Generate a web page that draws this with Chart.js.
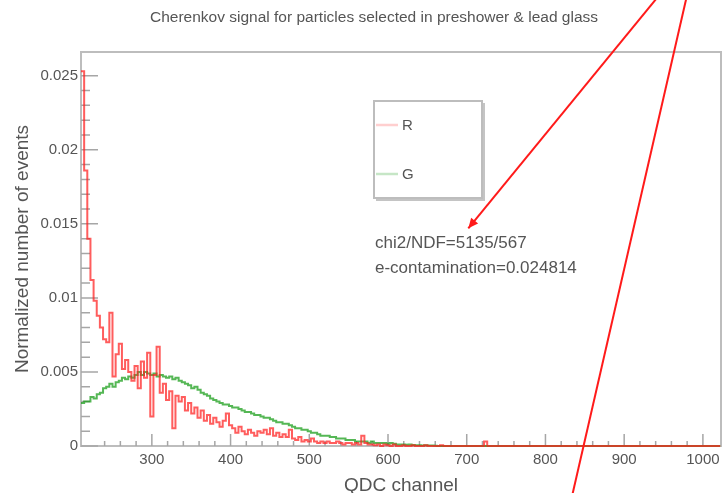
<!DOCTYPE html>
<html>
<head>
<meta charset="utf-8">
<script src="https://cdn.jsdelivr.net/npm/chart.js@4.4.1/dist/chart.umd.min.js"></script>
<style>
    html, body { margin: 0; padding: 0; background: #fff; }
</style>
</head>
<body>
<canvas id="qdcChart" width="726" height="493"></canvas>
<script>
/** histogram binning (QDC channels) */
const binStart = 210;
const binWidth = 4;

/** R histogram, normalized counts per bin */
const redCounts = [
    0.0253, 0.0186, 0.0140, 0.0112, 0.0098, 0.0088, 0.0080, 0.0072, 0.0070, 0.0090,
    0.0047, 0.0062, 0.0069, 0.0052, 0.0058, 0.0050, 0.0044, 0.0054, 0.0039, 0.0057,
    0.0046, 0.0063, 0.0020, 0.0048, 0.0067, 0.0036, 0.0042, 0.0031, 0.0037, 0.0012,
    0.0034, 0.0030, 0.0033, 0.0024, 0.0029, 0.0022, 0.0026, 0.0019, 0.0024, 0.0017,
    0.0021, 0.0015, 0.0019, 0.0016, 0.0013, 0.0017, 0.0022, 0.0014, 0.0012, 0.0009,
    0.0013, 0.0010, 0.0008, 0.0011, 0.0009, 0.0007, 0.0010, 0.0009, 0.0011, 0.0008,
    0.0012, 0.0007, 0.0009, 0.0006, 0.0008, 0.0006, 0.0011, 0.0005, 0.0004, 0.0006,
    0.0003, 0.0004, 0.0003, 0.0005, 0.0003, 0.0002, 0.0003, 0.0002, 0.0003, 0.0002,
    0.0002, 0.0003, 0.0002, 0.0001, 0.0002, 0.0002, 0.0001, 0.0002, 0.0001, 0.0007,
    0.0002, 0.0001, 0.0001, 0.00005, 0.0001, 0, 0.0001, 0.00005, 0, 0.0001,
    0, 0, 0.00005, 0, 0, 0.00005, 0, 0, 0, 0.00005,
    0, 0, 0, 0, 0.00005, 0, 0, 0, 0, 0,
    0, 0, 0, 0, 0, 0, 0, 0, 0.0003, 0,
    0, 0, 0, 0, 0, 0, 0, 0, 0, 0,
    0, 0, 0, 0, 0, 0, 0, 0, 0, 0,
    0, 0, 0, 0, 0, 0, 0, 0, 0, 0,
    0, 0, 0, 0, 0, 0, 0, 0, 0, 0,
    0, 0, 0, 0, 0, 0, 0, 0, 0, 0,
    0, 0, 0, 0, 0, 0, 0, 0, 0, 0,
    0, 0, 0, 0, 0, 0, 0, 0, 0, 0,
    0, 0, 0
];

/** G histogram, normalized counts per bin */
const greenCounts = [
    0.0029, 0.0030, 0.0030, 0.0033, 0.0032, 0.0035, 0.0036, 0.0039, 0.0040, 0.0042,
    0.0040, 0.0043, 0.0044, 0.0046, 0.0045, 0.0047, 0.0046, 0.0048, 0.0050, 0.0048,
    0.0050, 0.0049, 0.0048, 0.0049, 0.0047, 0.0048, 0.0047, 0.0046, 0.0047, 0.0045,
    0.0046, 0.0044, 0.0043, 0.0042, 0.0041, 0.0039, 0.0040, 0.0038, 0.0036, 0.0035,
    0.0034, 0.0032, 0.0031, 0.0030, 0.0029, 0.0028, 0.0028, 0.0027, 0.0026, 0.0026,
    0.0025, 0.0024, 0.0023, 0.0023, 0.0022, 0.0021, 0.0021, 0.0020, 0.0019, 0.0019,
    0.0018, 0.0017, 0.0016, 0.0016, 0.0015, 0.0015, 0.0014, 0.0013, 0.0012, 0.0012,
    0.0011, 0.0011, 0.0010, 0.0009, 0.0009, 0.0008, 0.0007, 0.0007, 0.0007, 0.0006,
    0.0006, 0.0005, 0.0005, 0.0005, 0.0004, 0.0004, 0.0004, 0.0003, 0.0003, 0.0003,
    0.0003, 0.0002, 0.0003, 0.0002, 0.0002, 0.0002, 0.0002, 0.00015, 0.0002, 0.00015,
    0.0001, 0.0001, 0.0001, 0.00008, 0.0001, 0.00007, 0.00005, 0.00005, 0.00004, 0.00005,
    0.00003, 0.00003, 0.00002, 0, 0, 0, 0, 0, 0, 0,
    0, 0, 0, 0, 0, 0, 0, 0, 0, 0,
    0, 0, 0, 0, 0, 0, 0, 0, 0, 0,
    0, 0, 0, 0, 0, 0, 0, 0, 0, 0,
    0, 0, 0, 0, 0, 0, 0, 0, 0, 0,
    0, 0, 0, 0, 0, 0, 0, 0, 0, 0,
    0, 0, 0, 0, 0, 0, 0, 0, 0, 0,
    0, 0, 0, 0, 0, 0, 0, 0, 0, 0,
    0, 0, 0, 0, 0, 0, 0, 0, 0, 0,
    0, 0, 0
];

/** axis ranges and tick steps */
const xRange = [210, 1023];
const yRange = [0, 0.0266];
const xMinorStep = 20, xMajorStep = 100;
const yMinorStep = 0.001, yMajorEvery = 5;

/** texts */
const chartTitle = "Cherenkov signal for particles selected in preshower & lead glass";
const xTitle = "QDC channel";
const yTitle = "Normalized number of events";
const seriesNames = ["R", "G"];
const fitLabels = ["chi2/NDF=5135/567", "e-contamination=0.024814"];

/** hand-drawn red marks, in data units (channel, value) */
const pointerArrow = [[948.6, 0.0307], [702, 0.0147]];
const slashLine = [[981, 0.0307], [832, -0.0038]];

// step histogram points: one per bin low edge plus the closing edge
function toSteps(counts) {
    const pts = counts.map((v, i) => ({ x: binStart + i * binWidth, y: v }));
    pts.push({ x: binStart + counts.length * binWidth, y: counts[counts.length - 1] });
    return pts;
}

const FONT = "'Liberation Sans', Arial, sans-serif";
const TEXT = "#555";

const rootPlugin = {
    id: "rootStyle",
    beforeDatasetsDraw(chart) {
        const { ctx, chartArea: a, scales: { x, y } } = chart;
        ctx.save();
        ctx.strokeStyle = "#bdbdbd";
        ctx.lineWidth = 2;
        ctx.strokeRect(a.left, a.top, a.right - a.left, a.bottom - a.top);

        // inward ticks like ROOT
        ctx.strokeStyle = "#a6a6a6";
        ctx.lineWidth = 1.5;
        ctx.beginPath();
        x.ticks.forEach(t => {
            if (t.value % xMinorStep !== 0) return;
            const px = x.getPixelForValue(t.value);
            const len = t.value % xMajorStep === 0 ? 12 : 5;
            ctx.moveTo(px, a.bottom);
            ctx.lineTo(px, a.bottom - len);
        });
        y.ticks.forEach(t => {
            const k = t.value / yMinorStep;
            if (Math.abs(k - Math.round(k)) > 1e-6) return;
            const py = y.getPixelForValue(t.value);
            const len = Math.round(k) % yMajorEvery === 0 ? 17 : 9;
            ctx.moveTo(a.left, py);
            ctx.lineTo(a.left + len, py);
        });
        ctx.stroke();
        ctx.restore();
    },
    afterDraw(chart) {
        const { ctx, scales: { x, y } } = chart;
        const px = p => [x.getPixelForValue(p[0]), y.getPixelForValue(p[1])];
        ctx.save();

        // title
        ctx.fillStyle = TEXT;
        ctx.font = "15.5px " + FONT;
        ctx.textAlign = "center";
        ctx.textBaseline = "middle";
        ctx.fillText(chartTitle, 374, 18);

        // legend box
        ctx.fillStyle = "#c4c4c4";
        ctx.fillRect(482, 103, 3, 98);
        ctx.fillRect(376, 198, 109, 3);
        ctx.strokeStyle = "#bdbdbd";
        ctx.lineWidth = 2;
        ctx.fillStyle = "#fff";
        ctx.fillRect(374, 101, 108, 97);
        ctx.strokeRect(374, 101, 108, 97);
        const swatch = ["#ffcfcf", "#c6e6c6"];
        [125, 174].forEach((ly, i) => {
            ctx.strokeStyle = swatch[i];
            ctx.lineWidth = 2.5;
            ctx.beginPath();
            ctx.moveTo(376, ly);
            ctx.lineTo(398, ly);
            ctx.stroke();
            ctx.fillStyle = TEXT;
            ctx.font = "15px " + FONT;
            ctx.textAlign = "left";
            ctx.fillText(seriesNames[i], 402, ly + 1);
        });

        // fit result text
        ctx.font = "17px " + FONT;
        ctx.fillStyle = TEXT;
        ctx.textAlign = "left";
        ctx.fillText(fitLabels[0], 375, 243);
        ctx.fillText(fitLabels[1], 375, 268);

        // red marks
        ctx.strokeStyle = "#ff1a1a";
        ctx.fillStyle = "#ff1a1a";
        ctx.lineWidth = 2;
        const [a0, a1] = pointerArrow.map(px);
        ctx.beginPath();
        ctx.moveTo(a0[0], a0[1]);
        ctx.lineTo(a1[0], a1[1]);
        ctx.stroke();
        const ang = Math.atan2(a1[1] - a0[1], a1[0] - a0[0]);
        ctx.beginPath();
        ctx.moveTo(a1[0], a1[1]);
        ctx.lineTo(a1[0] - 10 * Math.cos(ang) + 4.5 * Math.sin(ang), a1[1] - 10 * Math.sin(ang) - 4.5 * Math.cos(ang));
        ctx.lineTo(a1[0] - 10 * Math.cos(ang) - 4.5 * Math.sin(ang), a1[1] - 10 * Math.sin(ang) + 4.5 * Math.cos(ang));
        ctx.closePath();
        ctx.fill();
        const [s0, s1] = slashLine.map(px);
        ctx.beginPath();
        ctx.moveTo(s0[0], s0[1]);
        ctx.lineTo(s1[0], s1[1]);
        ctx.stroke();
        ctx.restore();
    }
};

new Chart(document.getElementById("qdcChart").getContext("2d"), {
    type: "line",
    data: {
        datasets: [{
            label: seriesNames[0],
            data: toSteps(redCounts),
            borderColor: "rgba(255, 30, 30, 0.72)",
            borderWidth: 2,
            stepped: true,
            pointRadius: 0,
            fill: false,
            clip: 3
        }, {
            label: seriesNames[1],
            data: toSteps(greenCounts),
            borderColor: "rgba(20, 155, 20, 0.72)",
            borderWidth: 2,
            stepped: true,
            pointRadius: 0,
            fill: false,
            clip: 3
        }]
    },
    options: {
        responsive: false,
        devicePixelRatio: 1,
        animation: false,
        layout: { padding: { top: 52, right: 3, left: 0, bottom: 0 } },
        plugins: { legend: { display: false }, tooltip: { enabled: false }, title: { display: false } },
        scales: {
            x: {
                type: "linear",
                min: xRange[0],
                max: xRange[1],
                grid: { display: false, drawTicks: false },
                border: { display: false },
                ticks: {
                    stepSize: xMinorStep,
                    autoSkip: false,
                    maxRotation: 0,
                    padding: 5,
                    color: TEXT,
                    font: { family: FONT, size: 15 },
                    callback: v => (v % xMajorStep === 0 ? String(v) : "")
                },
                title: {
                    display: true,
                    text: xTitle,
                    color: TEXT,
                    font: { family: FONT, size: 19, lineHeight: 1 },
                    padding: { top: 0, bottom: -2 }
                },
                afterFit: s => { s.height = 47; }
            },
            y: {
                min: yRange[0],
                max: yRange[1],
                grid: { display: false, drawTicks: false },
                border: { display: false },
                ticks: {
                    stepSize: yMinorStep,
                    autoSkip: false,
                    padding: 3,
                    color: TEXT,
                    font: { family: FONT, size: 15 },
                    callback: v => {
                        const k = v / yMinorStep;
                        if (Math.abs(k - Math.round(k)) > 1e-6 || Math.round(k) % yMajorEvery !== 0) return "";
                        return Math.round(k) === 0 ? "0" : String(Math.round(k) * yMinorStep);
                    }
                },
                title: {
                    display: true,
                    text: yTitle,
                    color: TEXT,
                    font: { family: FONT, size: 19, lineHeight: 1 },
                    padding: { top: 13, bottom: 0 }
                },
                afterFit: s => { s.width = 81; }
            }
        }
    },
    plugins: [rootPlugin]
});
</script>
</body>
</html>
